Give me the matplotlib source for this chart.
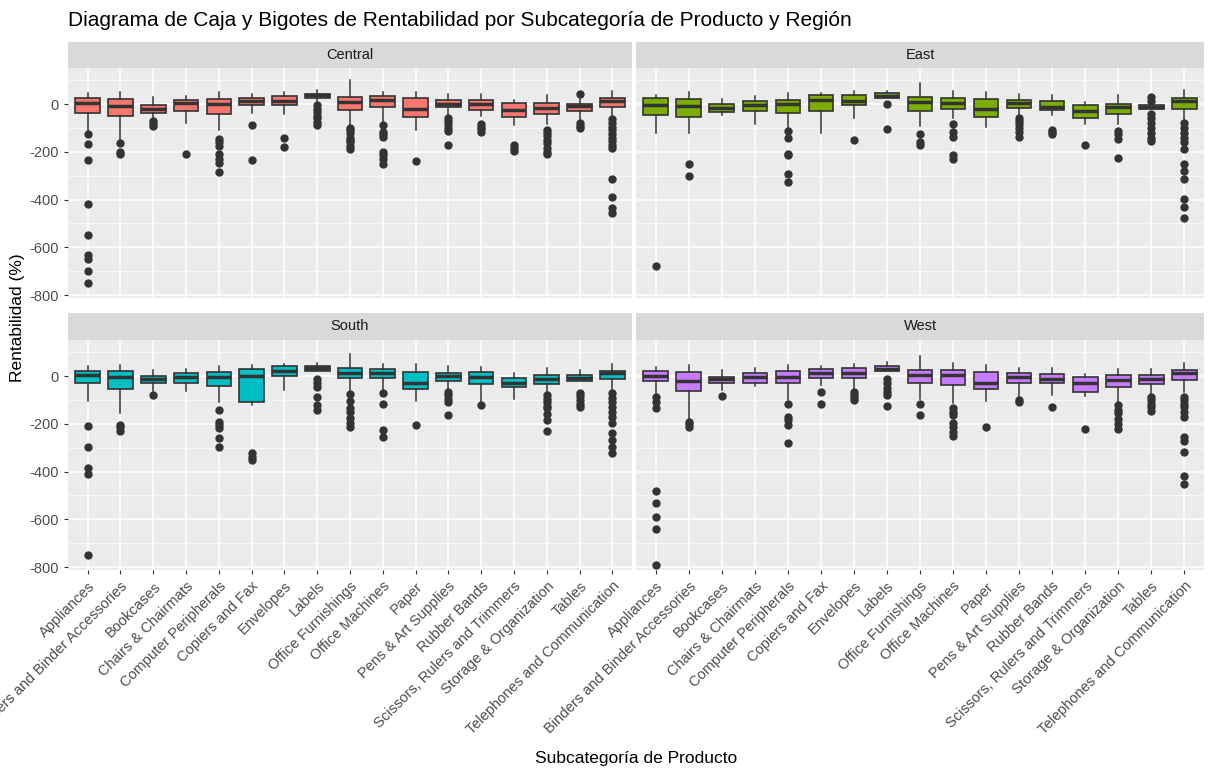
import matplotlib
matplotlib.use("Agg")
import matplotlib.pyplot as plt
from matplotlib.ticker import MultipleLocator

categories = ["Appliances", "Binders and Binder Accessories", "Bookcases", "Chairs & Chairmats",
              "Computer Peripherals", "Copiers and Fax", "Envelopes", "Labels", "Office Furnishings",
              "Office Machines", "Paper", "Pens & Art Supplies", "Rubber Bands",
              "Scissors, Rulers and Trimmers", "Storage & Organization", "Tables",
              "Telephones and Communication"]
regions = ["Central", "East", "South", "West"]
colors = ["#F8766D", "#7CAE00", "#00BFC4", "#C77CFF"]

# [whisker_low, q1, median, q3, whisker_high]
central_stats = [[-119,-36,4,24,47],[-150,-50,-10,20,50],[-64,-37,-20,-4,29],[-79,-31,4,16,33],
                 [-110,-40,0,20,50],[-36,-3,13,24,43],[-40,-6,11,33,50],[13,24,36,43,59],
                 [-90,-24,7,29,99],[-79,-14,17,33,50],[-110,-53,-19,24,50],[-50,-14,1,16,43],
                 [-50,-23,0,16,43],[-89,-53,-23,3,16],[-83,-40,-17,3,39],[-64,-31,-7,0,20],
                 [-57,-14,11,24,56]]
central_out = [[-126,-167,-233,-420,-550,-630,-650,-700,-750],[-164,-200,-210],[-72,-80,-90],[-211],
               [-147,-160,-175,-207,-230,-245,-284],[-87,-233],[-143,-181],[-5,-20,-35,-50,-60,-75,-89],
               [-100,-110,-120,-140,-150,-160,-175,-190],[-86,-115,-125,-136,-200,-215,-230,-253],[-237],
               [-57,-70,-85,-100,-111,-170],[-83,-95,-105,-117],[-173,-185,-196],
               [-107,-120,-135,-150,-165,-185,-200,-207],[43,-79,-90,-100],
               [-64,-80,-95,-110,-125,-140,-155,-170,-186,-314,-391,-436,-457]]

east_stats = [[-121,-44,-4,24,39],[-121,-53,-10,20,50],[-44,-33,-17,-1,21],[-83,-31,-4,11,33],
              [-100,-36,0,16,47],[-121,-31,16,37,46],[-57,-6,13,37,56],[27,27,33,46,56],
              [-93,-27,7,29,90],[-57,-20,4,24,56],[-97,-53,-19,20,50],[-50,-16,4,16,43],
              [-44,-23,-11,11,39],[-83,-57,-29,-6,7],[-83,-40,-14,-1,39],[-20,-20,-11,-4,-4],
              [-67,-20,11,24,60]]
east_out = [[-680],[-250,-301],[],[],[-114,-143,-207,-214,-293,-327],[],[-151],[-1,-103],
            [-126,-157,-171],[-83,-119,-139,-214,-229],[],[-57,-70,-85,-100,-115,-136],[-107,-117,-126],
            [-173],[-111,-125,-147,-226],[29,14,-43,-60,-80,-100,-120,-140,-154],
            [-80,-100,-120,-140,-160,-190,-250,-280,-314,-397,-431,-476]]

south_stats = [[-103,-31,4,20,42],[-154,-56,-6,20,46],[-61,-31,-14,-1,25],[-61,-31,-6,11,29],
               [-108,-43,-6,15,42],[-123,-110,0,28,46],[-57,-1,21,41,50],[20,20,34,41,53],
               [-66,-10,11,32,92],[-59,-10,13,28,50],[-103,-53,-27,15,50],[-59,-22,-1,11,42],
               [-119,-35,-6,15,36],[-94,-47,-27,-10,13],[-73,-35,-14,3,34],[-22,-22,-10,3,25],
               [-59,-14,11,20,50]]
south_out = [[-211,-295,-385,-410,-750],[-205,-215,-229],[-81],[],[-144,-191,-205,-219,-261,-295],
             [-324,-340,-352],[],[-14,-30,-45,-89,-122,-142],[-75,-103,-135,-150,-175,-195,-215],
             [-73,-119,-226,-254],[-204],[-66,-80,-95,-108,-163],[-123],[],
             [-80,-95,-110,-125,-135,-159,-186,-232],[-70,-85,-100,-115,-128],
             [-73,-90,-110,-130,-150,-170,-198,-240,-268,-296,-324]]

west_stats = [[-80,-22,0,20,36],[-184,-64,-22,15,46],[-59,-31,-14,-6,25],[-43,-27,-6,11,34],
              [-101,-31,-6,20,46],[-39,-10,11,28,42],[-59,-10,11,32,50],[20,20,28,42,59],
              [-94,-31,3,24,84],[-112,-39,3,24,53],[-103,-53,-27,15,46],[-103,-31,-6,11,34],
              [-80,-31,-14,7,34],[-85,-68,-27,-6,8],[-115,-47,-18,3,29],[-87,-35,-14,3,29],
              [-66,-18,11,24,53]]
west_out = [[-89,-110,-135,-480,-530,-590,-640,-790],[-191,-200,-212],[-85],[],
            [-115,-170,-185,-205,-282],[-68,-119],[-66,-80,-90,-101],[-13,-30,-50,-65,-80,-127],
            [-119,-163],[-135,-150,-163,-198,-215,-235,-251],[-215],[-100,-110],[-131],[-223],
            [-122,-140,-155,-180,-200,-223],[-89,-100,-115,-130,-145],
            [-87,-100,-115,-130,-150,-170,-255,-270,-320,-420,-450]]

all_stats = [central_stats, east_stats, south_stats, west_stats]
all_out = [central_out, east_out, south_out, west_out]

plt.rcParams['font.family'] = ['Liberation Sans', 'DejaVu Sans']
W, H = 1212, 777
fig = plt.figure(figsize=(W/100, H/100), dpi=100)

def px(x0, y0, x1, y1):
    return [x0/W, 1-y1/H, (x1-x0)/W, (y1-y0)/H]

panels = [(68, 68, 632, 298), (636, 68, 1204, 298), (68, 340, 632, 570), (636, 340, 1204, 570)]
strips = [(68, 42, 632, 68), (636, 42, 1204, 68), (68, 313, 632, 340), (636, 313, 1204, 340)]

pos = list(range(1, len(categories)+1))
for i, reg in enumerate(regions):
    ax = fig.add_axes(px(*panels[i]))
    ax.set_facecolor("#EBEBEB")
    bxps = []
    for s, o in zip(all_stats[i], all_out[i]):
        bxps.append(dict(whislo=s[0], q1=s[1], med=s[2], q3=s[3], whishi=s[4], fliers=o))
    ax.bxp(bxps, positions=pos, widths=0.75, patch_artist=True, showfliers=True,
           boxprops=dict(facecolor=colors[i], edgecolor="#333333", linewidth=1.2),
           medianprops=dict(color="#333333", linewidth=2.5),
           whiskerprops=dict(color="#333333", linewidth=1.1),
           capprops=dict(linewidth=0),
           flierprops=dict(marker="o", markerfacecolor="#333333", markeredgecolor="#333333",
                           markersize=5))
    ax.set_xlim(0.4, len(categories)+0.6)
    ax.set_ylim(-812, 151)
    ax.yaxis.set_major_locator(MultipleLocator(200))
    ax.yaxis.set_minor_locator(MultipleLocator(100))
    ax.grid(True, which="major", color="white", linewidth=1.1)
    ax.grid(True, which="minor", axis="y", color="white", linewidth=0.5)
    ax.set_axisbelow(True)
    for sp in ax.spines.values():
        sp.set_visible(False)
    ax.tick_params(colors="#333333", labelcolor="#4D4D4D", labelsize=10.5, length=3)
    ax.tick_params(which="minor", length=0)
    ax.set_xticks(pos)
    if i in (0, 2):
        ax.set_yticks([-800, -600, -400, -200, 0])
        ax.set_yticklabels(["-800", "-600", "-400", "-200", "0"])
    else:
        ax.tick_params(axis="y", labelleft=False, length=0)
    if i >= 2:
        ax.set_xticklabels(categories, rotation=45, ha="right", rotation_mode="anchor")
    else:
        ax.set_xticklabels([])
        ax.tick_params(axis="x", length=0)
    sax = fig.add_axes(px(*strips[i]))
    sax.set_facecolor("#D9D9D9")
    sax.set_xticks([]); sax.set_yticks([])
    for sp in sax.spines.values():
        sp.set_visible(False)
    sax.text(0.5, 0.5, reg, ha="center", va="center", fontsize=10.5, color="#1A1A1A",
             transform=sax.transAxes)

fig.text(68/W, 1-20/H, "Diagrama de Caja y Bigotes de Rentabilidad por Subcategoría de Producto y Región",
         fontsize=15, ha="left", va="center", color="black")
fig.text(636/W, 1-758/H, "Subcategoría de Producto", fontsize=12.5, ha="center", va="center")
fig.text(18/W, 1-318/H, "Rentabilidad (%)", fontsize=12.5, ha="center", va="center", rotation=90)

fig.savefig("out.png", dpi=100)
